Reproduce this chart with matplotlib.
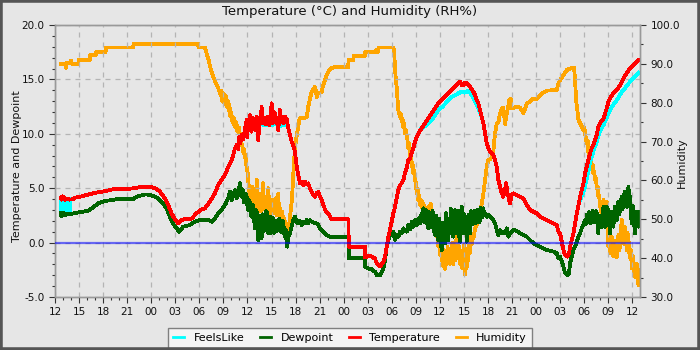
import numpy as np
import matplotlib
matplotlib.use('Agg')
import matplotlib.pyplot as plt
from matplotlib.ticker import MultipleLocator, FormatStrFormatter, FuncFormatter
from matplotlib.patches import Rectangle

# hours since 12:00 on the first day, value
temperature = [
    (0.72, 4.15), (0.8, 3.95), (0.9, 4.25), (1.0, 4.0), (1.1, 4.2), (1.25, 3.95), (1.5, 4.05),
    (1.8, 3.95), (2.26, 4.0), (2.6, 4.15), (3.09, 4.2), (3.51, 4.3), (4.34, 4.45), (5.17, 4.6),
    (6.0, 4.7), (6.42, 4.77), (7.25, 4.9), (8.91, 4.9), (9.75, 5.0), (10.99, 5.14), (11.83, 5.14),
    (12.45, 5.0), (13.07, 4.7), (13.7, 4.07), (14.11, 3.45), (14.53, 2.7), (14.94, 2.14),
    (15.36, 1.77), (15.78, 2.08), (16.4, 2.2), (17.02, 2.2), (17.65, 2.7), (18.27, 3.06),
    (18.69, 3.15), (19.32, 3.76), (19.94, 4.53), (20.36, 5.29), (20.77, 5.75), (21.19, 6.21),
    (21.6, 6.98), (22.02, 7.59), (22.23, 8.05), (22.44, 8.67), (22.64, 8.97), (22.85, 8.6),
    (22.98, 9.73), (23.1, 9.1), (23.27, 9.89), (23.48, 9.5), (23.68, 10.35), (23.8, 10.9),
    (23.89, 11.27), (23.97, 9.7), (24.1, 11.0), (24.2, 10.5), (24.31, 11.7), (24.41, 10.8),
    (24.51, 10.2), (24.62, 11.5), (24.72, 11.3), (24.83, 10.6), (24.93, 10.35), (25.04, 11.2),
    (25.14, 11.6), (25.25, 10.9), (25.35, 9.4), (25.45, 10.8), (25.55, 11.3), (25.66, 11.0),
    (25.76, 12.5), (25.87, 11.1), (25.97, 10.96), (26.08, 11.5), (26.18, 11.27), (26.29, 10.9),
    (26.39, 11.1), (26.49, 11.6), (26.59, 11.27), (26.7, 10.8), (26.8, 10.96), (26.9, 11.5),
    (27.01, 12.8), (27.12, 11.0), (27.22, 11.27), (27.33, 12.0), (27.43, 11.9), (27.53, 11.1),
    (27.63, 10.96), (27.74, 11.4), (27.84, 10.35), (27.95, 11.3), (28.05, 12.2), (28.16, 11.1),
    (28.26, 11.27), (28.37, 11.6), (28.47, 10.96), (28.57, 11.4), (28.67, 11.57), (28.78, 11.2),
    (28.88, 11.42), (29.09, 10.5), (29.3, 9.9), (29.5, 9.3), (29.71, 8.9), (29.92, 8.37),
    (30.04, 7.6), (30.21, 6.67), (30.38, 6.06), (30.54, 5.45), (30.75, 5.6), (30.96, 5.29),
    (31.17, 5.6), (31.38, 5.38), (31.58, 5.45), (31.79, 5.0), (32.21, 4.4), (32.41, 4.22),
    (32.62, 4.53), (32.83, 4.68), (33.04, 4.22), (33.25, 3.91), (33.54, 3.3), (33.79, 2.84),
    (34.08, 2.69), (34.29, 2.38), (34.5, 2.14), (36.6, 2.14), (36.62, -0.37), (38.65, -0.37),
    (38.67, -1.35), (39.28, -1.2), (39.6, -1.35), (39.9, -1.45), (40.11, -1.9), (40.53, -2.16),
    (40.73, -2.0), (40.94, -1.75), (41.15, -1.3), (41.36, -0.37), (41.57, 0.55), (41.77, 1.16),
    (41.98, 1.92), (42.19, 2.69), (42.4, 3.3), (42.6, 4.07), (42.81, 4.83), (43.02, 5.29),
    (43.23, 5.45), (43.44, 5.75), (43.64, 6.37), (43.85, 6.83), (44.06, 7.59), (44.27, 7.74),
    (44.48, 8.2), (44.68, 8.67), (44.89, 9.27), (45.1, 9.73), (45.31, 10.04), (45.72, 10.5),
    (46.14, 10.96), (46.56, 11.42), (46.97, 11.88), (47.39, 12.34), (47.8, 12.8), (48.22, 13.17),
    (48.63, 13.41), (49.05, 13.72), (49.47, 14.03), (49.88, 14.33), (50.3, 14.64), (50.5, 14.79),
    (50.71, 14.5), (50.92, 14.48), (51.13, 14.7), (51.34, 14.64), (51.75, 14.33), (52.17, 13.87),
    (52.38, 13.56), (52.58, 13.1), (52.79, 12.8), (53.0, 12.18), (53.21, 11.57), (53.42, 10.96),
    (53.62, 10.04), (53.83, 9.12), (54.04, 8.67), (54.25, 8.37), (54.46, 8.2), (54.67, 8.05),
    (54.87, 7.59), (55.08, 6.98), (55.29, 5.75), (55.5, 5.14), (55.71, 4.53), (55.91, 4.22),
    (56.12, 4.83), (56.25, 5.45), (56.41, 4.6), (56.74, 3.6), (56.95, 4.37), (57.16, 4.53),
    (57.58, 4.37), (57.99, 4.22), (58.41, 4.07), (58.82, 3.45), (59.24, 3.0), (59.66, 2.84),
    (60.07, 2.69), (60.49, 2.38), (60.9, 2.23), (61.32, 2.08), (61.73, 1.92), (62.15, 1.77),
    (62.57, 1.62), (62.77, 1.0), (62.98, 0.85), (63.19, 0.09), (63.4, -0.68), (63.61, -1.13),
    (63.9, -1.29), (64.1, -0.99), (64.23, -0.37), (64.44, 0.24), (64.65, 0.85), (64.85, 1.77),
    (65.06, 2.69), (65.27, 3.45), (65.48, 4.22), (65.68, 4.83), (65.89, 5.45), (66.1, 6.37),
    (66.31, 6.98), (66.52, 7.59), (66.72, 8.2), (66.93, 8.67), (67.14, 8.97), (67.35, 9.43),
    (67.56, 9.89), (67.76, 10.65), (67.97, 10.96), (68.39, 11.42), (68.6, 11.88), (68.8, 12.34),
    (69.01, 12.95), (69.22, 13.26), (69.63, 13.72), (70.05, 14.03), (70.47, 14.48), (70.88, 15.1),
    (71.3, 15.56), (71.71, 16.02), (72.13, 16.33), (72.55, 16.63), (72.75, 16.78),
]

dewpoint = [
    (0.72, 2.7), (0.8, 2.4), (0.9, 2.75), (1.0, 2.5), (1.1, 2.7), (1.3, 2.55), (1.5, 2.6),
    (1.85, 2.6), (2.68, 2.75), (3.51, 2.84), (4.13, 2.93), (4.76, 3.24), (5.38, 3.61), (6.21, 3.82),
    (7.04, 3.91), (7.67, 3.98), (9.75, 3.98), (10.16, 4.22), (11.2, 4.43), (11.83, 4.4),
    (12.66, 4.16), (13.28, 3.76), (13.91, 3.15), (14.32, 2.38), (14.74, 1.71), (15.15, 1.31),
    (15.48, 1.0), (15.98, 1.46), (16.82, 1.62), (17.44, 1.92), (18.06, 2.08), (18.49, 2.1),
    (19.11, 2.08), (19.53, 1.92), (19.94, 2.23), (20.36, 2.69), (20.77, 3.0), (21.19, 3.45),
    (21.6, 4.07), (21.81, 4.68), (22.02, 3.91), (22.23, 4.37), (22.44, 4.83), (22.64, 4.07),
    (22.85, 4.53), (23.06, 5.45), (23.17, 4.3), (23.27, 4.22), (23.38, 4.9), (23.48, 4.68),
    (23.58, 3.7), (23.68, 3.91), (23.79, 4.5), (23.89, 4.22), (24.0, 3.3), (24.1, 3.0),
    (24.2, 3.9), (24.31, 3.6), (24.41, 2.6), (24.51, 2.38), (24.62, 3.5), (24.72, 3.3),
    (24.83, 2.1), (24.93, 1.31), (25.04, 3.0), (25.14, 2.84), (25.25, 1.2), (25.35, 0.24),
    (25.45, 2.5), (25.55, 2.08), (25.66, 1.0), (25.76, 0.4), (25.87, 2.6), (25.97, 2.38),
    (26.08, 1.1), (26.18, 1.46), (26.29, 2.9), (26.39, 2.84), (26.49, 1.2), (26.59, 0.85),
    (26.7, 2.4), (26.8, 2.38), (26.9, 0.9), (27.01, 1.16), (27.12, 2.3), (27.22, 2.08),
    (27.33, 0.9), (27.43, 1.0), (27.53, 2.0), (27.63, 1.62), (27.74, 1.1), (27.84, 1.31),
    (27.95, 2.2), (28.05, 2.08), (28.16, 1.0), (28.26, 0.95), (28.37, 2.0), (28.47, 1.92),
    (28.57, 0.8), (28.67, 0.6), (28.78, 1.2), (28.88, -0.07), (28.96, -0.37), (29.09, 0.54),
    (29.3, 0.85), (29.5, 1.46), (29.71, 2.08), (29.92, 2.38), (30.13, 1.92), (30.34, 1.77),
    (30.54, 2.0), (30.75, 1.62), (30.96, 1.92), (31.17, 1.77), (31.38, 2.08), (31.58, 1.77),
    (31.79, 2.08), (32.0, 1.92), (32.21, 1.85), (32.62, 1.77), (32.83, 1.62), (33.04, 1.31),
    (33.45, 1.0), (33.87, 0.7), (34.29, 0.54), (36.6, 0.54), (36.62, -1.44), (38.65, -1.44),
    (38.67, -2.2), (39.07, -2.37), (39.49, -2.45), (39.9, -2.68), (40.11, -2.99), (40.53, -2.99),
    (40.73, -2.75), (40.94, -2.37), (41.15, -1.6), (41.36, -0.37), (41.57, 0.24), (41.77, 0.7),
    (41.98, 0.85), (42.19, 1.0), (42.4, 0.24), (42.6, 0.7), (42.81, 0.54), (43.02, 1.0),
    (43.23, 0.85), (43.44, 1.31), (43.64, 1.16), (43.85, 1.0), (44.06, 1.62), (44.27, 1.2),
    (44.48, 1.92), (44.68, 1.46), (44.89, 2.08), (45.1, 1.62), (45.31, 2.23), (45.52, 1.77),
    (45.72, 2.69), (45.83, 2.0), (45.93, 3.15), (46.04, 1.9), (46.14, 2.08), (46.25, 3.0),
    (46.35, 2.69), (46.45, 1.5), (46.56, 1.31), (46.66, 2.8), (46.76, 2.38), (46.87, 1.4),
    (46.97, 1.77), (47.08, 2.9), (47.18, 2.38), (47.29, 1.0), (47.39, 0.7), (47.5, 2.5),
    (47.6, 2.08), (47.7, 0.5), (47.8, 0.24), (47.91, 2.2), (48.01, 1.46), (48.12, 0.0),
    (48.22, -0.68), (48.32, 1.8), (48.43, 1.16), (48.53, 0.3), (48.63, -0.07), (48.74, 2.7),
    (48.84, 2.23), (48.95, 0.6), (49.05, 0.24), (49.16, 2.0), (49.26, 1.16), (49.37, 3.1),
    (49.47, 2.69), (49.57, 0.9), (49.67, 0.54), (49.78, 2.6), (49.88, 3.0), (49.98, 1.5),
    (50.09, 0.85), (50.2, 2.9), (50.3, 2.08), (50.4, 0.6), (50.5, 0.09), (50.61, 2.5),
    (50.71, 3.3), (50.82, 1.8), (50.92, 0.85), (51.02, 2.6), (51.13, 1.46), (51.23, 2.2),
    (51.34, 0.09), (51.44, 2.1), (51.55, 2.53), (51.65, 1.2), (51.75, 0.85), (51.86, 2.9),
    (51.96, 2.69), (52.07, 1.7), (52.17, 1.92), (52.28, 2.9), (52.38, 2.53), (52.48, 1.8),
    (52.58, 2.08), (52.69, 3.0), (52.79, 2.69), (52.9, 1.9), (53.0, 2.08), (53.1, 3.2),
    (53.21, 2.84), (53.31, 2.3), (53.42, 3.15), (53.52, 2.5), (53.62, 2.69), (53.83, 2.38),
    (54.04, 2.53), (54.25, 2.38), (54.46, 2.23), (54.67, 2.08), (54.87, 1.77), (55.08, 1.16),
    (55.29, 0.7), (55.5, 1.16), (55.71, 0.85), (55.91, 1.0), (56.12, 0.85), (56.33, 1.31),
    (56.54, 0.54), (56.74, 0.85), (56.95, 1.0), (57.16, 1.16), (57.58, 1.08), (57.99, 0.85),
    (58.41, 0.7), (58.82, 0.54), (59.24, 0.24), (59.66, -0.07), (60.07, -0.22), (60.49, -0.37),
    (60.9, -0.53), (61.32, -0.68), (61.73, -0.75), (62.15, -0.83), (62.57, -0.99), (62.77, -1.44),
    (62.98, -1.29), (63.19, -1.75), (63.4, -2.2), (63.61, -2.81), (63.9, -2.99), (64.1, -2.81),
    (64.23, -1.9), (64.44, -1.29), (64.65, -0.68), (64.85, -0.37), (65.06, 0.09), (65.27, 0.54),
    (65.48, 0.85), (65.68, 1.31), (65.89, 1.62), (66.1, 2.08), (66.2, 1.7), (66.31, 2.53),
    (66.41, 1.9), (66.52, 2.08), (66.62, 2.8), (66.72, 2.69), (66.83, 1.8), (66.93, 1.92),
    (67.04, 2.9), (67.14, 2.69), (67.25, 1.9), (67.35, 2.23), (67.45, 2.9), (67.56, 2.69),
    (67.66, 1.5), (67.76, 0.85), (67.87, 2.5), (67.97, 2.23), (68.08, 1.4), (68.18, 1.77),
    (68.29, 2.6), (68.39, 3.3), (68.49, 2.0), (68.6, 1.46), (68.7, 2.8), (68.8, 3.3),
    (68.91, 2.2), (69.01, 3.0), (69.12, 1.6), (69.22, 0.85), (69.32, 2.4), (69.43, 2.84),
    (69.53, 1.9), (69.63, 1.46), (69.74, 2.6), (69.84, 3.3), (69.95, 2.3), (70.05, 2.08),
    (70.16, 3.2), (70.26, 3.76), (70.36, 2.6), (70.47, 3.0), (70.57, 3.9), (70.68, 4.22),
    (70.78, 3.1), (70.88, 3.91), (70.99, 4.5), (71.09, 4.68), (71.2, 3.5), (71.3, 3.3),
    (71.4, 4.6), (71.51, 5.14), (71.61, 3.8), (71.71, 4.22), (71.82, 2.5), (71.92, 1.77),
    (72.03, 3.4), (72.13, 3.0), (72.23, 1.6), (72.34, 0.85), (72.44, 2.6), (72.55, 2.84),
    (72.65, 1.9), (72.75, 1.46), (72.85, 2.8), (72.96, 2.69),
]

humidity = [
    (0.72, 90.0), (1.3, 90.0), (1.35, 89.0), (1.45, 90.2), (1.9, 90.2), (2.0, 90.8), (2.1, 90.0),
    (2.9, 90.0), (2.95, 91.0), (4.34, 91.0), (4.4, 92.3), (5.1, 92.3), (5.15, 93.0), (6.3, 93.0),
    (6.35, 94.2), (9.75, 94.2), (9.8, 95.1), (17.85, 95.1), (17.9, 94.2), (18.69, 94.2),
    (18.9, 92.7), (19.11, 91.4), (19.4, 88.8), (19.73, 86.6), (20.07, 85.0), (20.36, 83.7),
    (20.65, 82.0), (20.75, 83.0), (20.85, 80.5), (20.95, 82.5), (21.05, 80.0), (21.15, 82.0),
    (21.25, 79.5), (21.35, 81.5), (21.45, 79.0), (21.55, 80.5), (21.65, 78.0), (21.75, 79.5),
    (21.85, 76.5), (21.95, 77.5), (22.05, 75.5), (22.15, 76.5), (22.25, 74.5), (22.35, 75.8),
    (22.45, 73.8), (22.55, 75.0), (22.65, 73.0), (22.75, 74.0), (22.85, 72.5), (22.95, 73.5),
    (23.05, 71.0), (23.15, 72.0), (23.25, 69.5), (23.35, 69.0), (23.45, 67.5), (23.55, 68.0),
    (23.65, 66.0), (23.75, 66.5), (23.85, 64.0), (23.95, 63.0), (24.05, 61.5), (24.1, 60.1),
    (24.2, 57.0), (24.3, 53.5), (24.4, 58.5), (24.5, 54.0), (24.6, 58.3), (24.7, 53.0),
    (24.8, 57.5), (24.9, 52.5), (25.0, 58.0), (25.1, 54.0), (25.15, 60.1), (25.25, 53.0),
    (25.35, 56.6), (25.45, 52.5), (25.55, 56.0), (25.65, 52.0), (25.75, 56.6), (25.85, 53.5),
    (25.97, 59.3), (26.05, 52.5), (26.15, 55.8), (26.25, 51.5), (26.35, 55.8), (26.45, 52.0),
    (26.6, 58.0), (26.7, 52.5), (26.8, 54.9), (26.9, 51.0), (27.0, 54.9), (27.1, 52.0),
    (27.2, 55.0), (27.3, 51.5), (27.4, 54.5), (27.5, 52.0), (27.6, 55.5), (27.7, 51.0),
    (27.84, 56.6), (27.95, 51.0), (28.05, 52.8), (28.15, 50.0), (28.3, 52.0), (28.4, 49.5),
    (28.5, 50.7), (28.6, 48.5), (28.7, 49.3), (28.8, 47.5), (28.88, 46.0), (28.95, 47.0),
    (29.05, 48.1), (29.15, 47.5), (29.3, 50.7), (29.45, 53.0), (29.6, 57.0), (29.75, 63.0),
    (29.92, 68.5), (30.1, 71.0), (30.3, 73.5), (30.5, 76.0), (31.38, 76.2), (31.58, 79.0),
    (31.79, 81.1), (32.0, 82.8), (32.41, 84.1), (32.55, 83.0), (32.62, 81.4), (32.75, 82.5),
    (32.96, 82.4), (33.25, 82.8), (33.45, 84.6), (33.79, 86.7), (34.08, 88.0), (34.5, 88.9),
    (34.7, 89.1), (36.57, 89.1), (36.6, 91.0), (37.2, 91.0), (37.25, 92.1), (38.65, 92.1),
    (38.7, 93.1), (40.0, 93.1), (40.05, 93.6), (40.1, 93.1), (40.3, 93.1), (40.35, 94.2),
    (42.19, 94.2), (42.3, 93.0), (42.4, 88.4), (42.6, 84.1), (42.81, 78.1), (43.02, 76.4),
    (43.12, 77.2), (43.23, 75.1), (43.34, 75.8), (43.44, 73.8), (43.54, 74.6), (43.64, 72.1),
    (43.75, 73.0), (43.85, 71.5), (43.95, 70.5), (44.06, 68.3), (44.17, 69.5), (44.27, 66.5),
    (44.38, 67.5), (44.48, 63.5), (44.58, 64.5), (44.68, 61.8), (44.79, 62.5), (44.89, 60.1),
    (45.0, 59.5), (45.1, 56.7), (45.2, 58.0), (45.31, 55.0), (45.42, 56.0), (45.52, 53.7),
    (45.62, 55.0), (45.72, 53.2), (45.83, 54.5), (45.93, 52.5), (46.04, 53.5), (46.14, 52.0),
    (46.25, 53.0), (46.35, 51.5), (46.45, 52.5), (46.56, 51.5), (46.66, 53.5), (46.76, 51.0),
    (46.87, 54.0), (46.97, 50.0), (47.08, 52.0), (47.18, 48.5), (47.3, 50.5), (47.4, 47.5),
    (47.5, 49.0), (47.6, 45.5), (47.7, 47.5), (47.8, 43.0), (47.9, 45.0), (48.0, 41.0),
    (48.1, 44.0), (48.2, 39.5), (48.3, 43.0), (48.42, 38.0), (48.52, 42.0), (48.63, 37.2),
    (48.75, 41.0), (48.85, 38.5), (48.95, 43.0), (49.05, 39.0), (49.15, 42.5), (49.25, 38.5),
    (49.35, 41.5), (49.46, 39.0), (49.55, 44.0), (49.65, 38.5), (49.75, 42.0), (49.88, 39.5),
    (49.95, 44.5), (50.05, 40.0), (50.15, 46.0), (50.29, 40.5), (50.4, 43.0), (50.5, 38.5),
    (50.6, 42.0), (50.71, 37.5), (50.85, 41.0), (50.95, 38.0), (51.05, 43.5), (51.13, 35.8),
    (51.2, 41.0), (51.33, 37.5), (51.45, 42.5), (51.54, 39.5), (51.65, 44.0), (51.75, 41.5),
    (51.85, 45.5), (51.96, 43.5), (52.07, 46.0), (52.17, 45.0), (52.38, 47.5), (52.58, 48.5),
    (52.79, 49.8), (53.0, 51.5), (53.2, 54.0), (53.42, 56.7), (53.62, 60.1), (53.83, 63.5),
    (54.04, 65.3), (54.25, 65.5), (54.46, 66.0), (54.67, 67.8), (54.87, 72.1), (55.08, 74.7),
    (55.29, 75.0), (55.5, 77.3), (55.71, 78.5), (55.91, 78.7), (56.12, 74.5), (56.33, 77.3),
    (56.54, 79.2), (56.66, 80.7), (56.83, 81.1), (56.95, 78.5), (57.16, 78.7), (57.58, 79.0),
    (57.99, 78.7), (58.2, 78.1), (58.41, 77.3), (58.62, 78.5), (58.82, 79.8), (59.03, 80.0),
    (59.45, 80.7), (59.66, 81.1), (60.07, 80.9), (60.49, 82.0), (60.9, 82.6), (61.32, 83.1),
    (62.57, 83.3), (62.77, 85.0), (62.98, 85.8), (63.4, 87.1), (63.81, 88.4), (64.23, 88.8),
    (64.73, 89.0), (64.85, 85.8), (64.98, 80.7), (65.14, 78.1), (65.27, 75.6), (65.48, 74.7),
    (65.68, 73.8), (65.89, 73.0), (66.0, 73.6), (66.1, 72.1), (66.2, 71.0), (66.31, 69.5),
    (66.42, 70.2), (66.52, 67.0), (66.62, 67.8), (66.72, 65.3), (66.83, 66.0), (66.93, 63.5),
    (67.04, 64.0), (67.14, 61.8), (67.25, 62.2), (67.35, 60.1), (67.45, 60.6), (67.56, 58.0),
    (67.66, 58.4), (67.76, 55.8), (67.87, 56.2), (67.97, 53.2), (68.08, 53.8), (68.18, 49.8),
    (68.29, 53.0), (68.39, 55.0), (68.5, 51.5), (68.6, 53.2), (68.7, 50.5), (68.8, 54.5),
    (68.9, 47.0), (69.01, 43.0), (69.12, 46.0), (69.22, 41.2), (69.32, 44.0), (69.43, 45.5),
    (69.53, 42.0), (69.63, 40.4), (69.74, 44.5), (69.84, 43.5), (69.95, 41.0), (70.05, 40.2),
    (70.16, 44.0), (70.26, 46.0), (70.36, 42.0), (70.47, 43.0), (70.57, 47.5), (70.68, 49.8),
    (70.78, 45.0), (70.88, 46.5), (70.99, 43.5), (71.09, 48.0), (71.2, 44.5), (71.3, 42.0),
    (71.4, 46.5), (71.51, 45.0), (71.61, 41.5), (71.71, 40.2), (71.82, 42.0), (71.92, 37.4),
    (72.03, 40.5), (72.13, 39.5), (72.23, 36.5), (72.34, 35.2), (72.44, 38.5), (72.55, 38.5),
    (72.65, 34.5), (72.75, 33.1), (72.85, 37.0), (72.96, 36.0),
]

# feels-like where it parts from the temperature (elsewhere it sits under the red line)
feels_like = [
    [(0.72, 3.9), (0.77, 2.9), (0.82, 3.85), (0.87, 2.8), (0.92, 3.8), (0.97, 2.85), (1.02, 3.9),
     (1.07, 2.8), (1.12, 3.75), (1.17, 2.9), (1.22, 3.85), (1.27, 2.8), (1.32, 3.8), (1.37, 2.85),
     (1.42, 3.9), (1.47, 2.8), (1.52, 3.8), (1.57, 2.9), (1.62, 3.85), (1.67, 2.8), (1.72, 3.75),
     (1.77, 2.85), (1.82, 3.9), (1.87, 2.9), (1.93, 3.9), (2.0, 4.0)],
    [(25.7, 10.9), (26.0, 10.8), (26.5, 10.85), (27.0, 10.8), (27.5, 10.9), (28.0, 10.7),
     (28.5, 10.8), (28.9, 10.8)],
    [(45.72, 10.5), (46.14, 10.7), (46.56, 10.96), (46.97, 11.27), (47.39, 11.73), (47.8, 12.18),
     (48.22, 12.43), (48.63, 12.74), (49.05, 13.1), (49.47, 13.41), (49.88, 13.56), (50.3, 13.72),
     (50.71, 13.87), (51.13, 13.78), (51.55, 13.96), (51.96, 13.56), (52.38, 12.96), (52.79, 12.34),
     (53.21, 11.57), (53.42, 10.96)],
    [(65.06, 2.69), (65.27, 3.45), (65.48, 3.9), (65.68, 4.3), (65.89, 4.6), (66.1, 5.2),
     (66.31, 5.9), (66.52, 6.6), (66.72, 7.4), (67.14, 8.4), (67.56, 9.3), (67.97, 10.3),
     (68.39, 10.8), (68.8, 11.5), (69.22, 12.18), (69.63, 12.7), (70.05, 13.1), (70.47, 13.6),
     (70.88, 14.03), (71.3, 14.4), (71.71, 14.8), (72.13, 15.1), (72.55, 15.4), (72.75, 15.6)],
]

BG = '#e6e6e6'
LW = 2.0


def hour_label(v, pos):
    return '%02d' % ((int(round(v)) + 12) % 24)


def main():
    fig = plt.figure(figsize=(7, 3.5), dpi=100, facecolor=BG)
    ax = fig.add_axes([0.0786, 0.1514, 0.8357, 0.7771])
    ax2 = ax.twinx()

    # humidity goes underneath the temperature lines
    ax.set_zorder(ax2.get_zorder() + 1)
    ax.patch.set_visible(False)
    ax2.patch.set_visible(True)
    ax2.patch.set_facecolor(BG)

    for i, seg in enumerate(feels_like):
        h, v = np.array(seg).T
        line = ax.plot(h, v, color='#00ffff', lw=LW, antialiased=False)[0]
        if i == 0:
            fl_line = line
    h, v = np.array(dewpoint).T
    dp_line, = ax.plot(h, v, color='#006400', lw=LW, antialiased=False)
    h, v = np.array(temperature).T
    t_line, = ax.plot(h, v, color='#ff0000', lw=LW, antialiased=False)
    h, v = np.array(humidity).T
    hum_line, = ax2.plot(h, v, color='#ffa500', lw=LW, antialiased=False)

    ax.axhline(0, color='#0000ff', alpha=0.55, lw=1.6, zorder=5)

    ax.set_xlim(0, 72.95)
    ax.set_ylim(-5, 20)
    ax2.set_ylim(30, 100)

    ax.xaxis.set_major_locator(MultipleLocator(3))
    ax.xaxis.set_minor_locator(MultipleLocator(1))
    ax.xaxis.set_major_formatter(FuncFormatter(hour_label))
    ax.yaxis.set_major_locator(MultipleLocator(5))
    ax.yaxis.set_minor_locator(MultipleLocator(1))
    ax.yaxis.set_major_formatter(FormatStrFormatter('%.1f'))
    ax2.yaxis.set_major_locator(MultipleLocator(10))
    ax2.yaxis.set_minor_locator(MultipleLocator(5))
    ax2.yaxis.set_major_formatter(FormatStrFormatter('%.1f'))

    for a in (ax, ax2):
        a.tick_params(which='major', length=4, width=0.8, color='#333333',
                      labelsize=7.5, labelcolor='#111111')
        a.tick_params(which='minor', length=2.2, width=0.8, color='#333333')
        for s in a.spines.values():
            s.set_color('#999999')
            s.set_linewidth(1.0)

    ax.grid(True, which='major', color='#b4b4b4', linestyle=(0, (4, 4)), linewidth=0.9)

    fig.text(0.5, 0.966, 'Temperature (°C) and Humidity (RH%)', ha='center', va='center',
             fontsize=9.5, color='#111111')
    fig.text(0.024, 0.525, 'Temperature and Dewpoint', rotation=90, ha='center', va='center',
             fontsize=8, color='#111111')
    fig.text(0.974, 0.534, 'Humidity', rotation=90, ha='center', va='center',
             fontsize=8, color='#111111')

    leg = fig.legend([fl_line, dp_line, t_line, hum_line],
                     ['FeelsLike', 'Dewpoint', 'Temperature', 'Humidity'],
                     loc='lower center', bbox_to_anchor=(0.5, 0.006), ncol=4, fontsize=8,
                     fancybox=False, framealpha=1, facecolor='#f4f4f4', edgecolor='#808080',
                     handlelength=1.0, handletextpad=0.85, columnspacing=1.4,
                     borderpad=0.45, borderaxespad=0)
    leg.get_frame().set_linewidth(1.0)

    fig.patches.append(Rectangle((0, 0), 1, 1, transform=fig.transFigure, fill=False,
                                 edgecolor='#555555', linewidth=4, zorder=10))

    fig.savefig('out.png', dpi=100, facecolor=BG)


if __name__ == '__main__':
    main()
